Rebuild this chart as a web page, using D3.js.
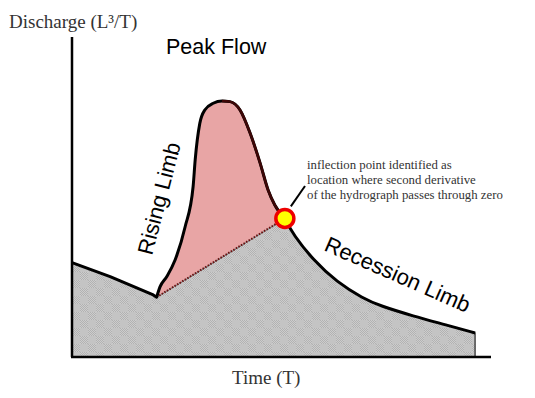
<!DOCTYPE html>
<html>
<head>
<meta charset="utf-8">
<script src="https://cdn.jsdelivr.net/npm/d3@7"></script>
<style>
  html, body { margin: 0; padding: 0; background: #fff; }
  svg { display: block; }
</style>
</head>
<body>
<div id="viz"></div>
<script>
const W = 535;
const H = 398;

// Hydrograph (time and discharge in arbitrary units 0-100).
const descentTime = [0, 9.1, 19.4, 20.2];
const descentFlow = [29.5, 25.1, 19.4, 18.7];

const eventTime = [20.2, 21.0, 22.6, 24.6, 27.0, 28.9, 29.4, 30.5, 31.7, 33.7, 35.8, 37.7, 40.1, 42.5, 44.9, 46.8, 48.4, 50.8];
const eventFlow = [18.7, 21.9, 25.1, 30.3, 40.7, 53.2, 61.6, 73.0, 77.2, 79.3, 80.0, 79.8, 77.2, 70.0, 60.6, 52.2, 47.5, 43.3];

const recessionTime = [50.8, 52.8, 57.6, 63.2, 69.5, 73.5, 81.4, 89.4, 96.2];
const recessionFlow = [43.3, 38.2, 30.3, 23.4, 18.3, 16.0, 12.8, 10.0, 7.5];

const peakIndex = 10; // top of the event
const inflection = { t: 50.8, q: 43.3 };

const annotationLines = [
  'inflection point identified as',
  'location where second derivative',
  'of the hydrograph passes through zero',
];

const x = d3.scaleLinear().domain([0, 100]).range([72, 491]);
const y = d3.scaleLinear().domain([0, 100]).range([357, 37]);

const zip = (ts, qs) => ts.map((t, i) => ({ t, q: qs[i] }));
const descent = zip(descentTime, descentFlow);
const event = zip(eventTime, eventFlow);
const recession = zip(recessionTime, recessionFlow);

const lineLinear = d3.line().x((d) => x(d.t)).y((d) => y(d.q));
const lineSmooth = d3.line().x((d) => x(d.t)).y((d) => y(d.q)).curve(d3.curveMonotoneX);
const lineRecess = d3.line().x((d) => x(d.t)).y((d) => y(d.q)).curve(d3.curveBasis);

// join path strings, turning the leading M of later pieces into L
const joinPaths = (...parts) => parts.map((p, i) => (i ? p.replace(/^M/, 'L') : p)).join('');

const svg = d3.select('#viz').append('svg').attr('width', W).attr('height', H);

const defs = svg.append('defs');
const fine = defs.append('pattern')
  .attr('id', 'fine')
  .attr('patternUnits', 'userSpaceOnUse')
  .attr('width', 2).attr('height', 2);
fine.append('rect').attr('width', 2).attr('height', 2).attr('fill', '#cdcdcd');
fine.append('rect').attr('width', 1).attr('height', 1).attr('fill', '#b2b2b2');
fine.append('rect').attr('x', 1).attr('y', 1).attr('width', 1).attr('height', 1).attr('fill', '#b2b2b2');
const pat = defs.append('pattern')
  .attr('id', 'checker')
  .attr('patternUnits', 'userSpaceOnUse')
  .attr('width', 16).attr('height', 16);
pat.append('rect').attr('width', 16).attr('height', 16).attr('fill', '#c4c4c4');
pat.append('rect').attr('width', 8).attr('height', 8).attr('fill', 'url(#fine)');
pat.append('rect').attr('x', 8).attr('y', 8).attr('width', 8).attr('height', 8).attr('fill', 'url(#fine)');

// baseflow area (grey)
const first = descent[0];
const last = recession[recession.length - 1];
const baseD = 'M' + x(first.t) + ',' + y(0) +
  joinPaths('L' + x(first.t) + ',' + y(first.q), lineLinear(descent), lineRecess(recession).replace(/^M/, 'L')) +
  'L' + x(last.t) + ',' + y(0) + 'Z';
svg.append('path')
  .attr('d', baseD)
  .attr('fill', 'url(#checker)')
  .attr('stroke', '#222')
  .attr('stroke-width', 1.2);

// quickflow area (pink) between event curve and separation line
svg.append('path')
  .attr('d', lineSmooth(event) + 'Z')
  .attr('fill', '#e8a5a5')
  .attr('stroke', '#999')
  .attr('stroke-width', 1);

// separation line (dotted)
svg.append('path')
  .attr('d', lineLinear([event[0], inflection]))
  .attr('fill', 'none')
  .attr('stroke', '#6b1010')
  .attr('stroke-width', 2)
  .attr('stroke-dasharray', '1.5,1.5');

// hydrograph
svg.append('path')
  .attr('d', joinPaths(lineLinear(descent), lineSmooth(event), lineRecess(recession)))
  .attr('fill', 'none')
  .attr('stroke', '#000')
  .attr('stroke-width', 3)
  .attr('stroke-linejoin', 'round');

// falling limb overdrawn in dark red
svg.append('path')
  .attr('d', lineSmooth(event.slice(peakIndex)))
  .attr('fill', 'none')
  .attr('stroke', '#3e0606')
  .attr('stroke-width', 2.5);

// axes
svg.append('line')
  .attr('x1', x(0)).attr('x2', x(0))
  .attr('y1', y(100)).attr('y2', y(0))
  .attr('stroke', '#000').attr('stroke-width', 2.5);
svg.append('line')
  .attr('x1', x(0) - 1).attr('x2', x(100))
  .attr('y1', y(0)).attr('y2', y(0))
  .attr('stroke', '#000').attr('stroke-width', 2.5);

// leader line + inflection marker
svg.append('line')
  .attr('x1', x(inflection.t) + 6).attr('y1', y(inflection.q) - 12)
  .attr('x2', 305).attr('y2', 186)
  .attr('stroke', '#000').attr('stroke-width', 2);
svg.append('circle')
  .attr('cx', x(inflection.t)).attr('cy', y(inflection.q))
  .attr('r', 9)
  .attr('fill', '#ffff00')
  .attr('stroke', '#ee0000')
  .attr('stroke-width', 3.5);

// text
const serif = '"Liberation Serif", "Times New Roman", serif';
const sans = '"Liberation Sans", Arial, sans-serif';

svg.append('text')
  .attr('x', 9).attr('y', 28)
  .attr('font-family', serif).attr('font-size', 19).attr('fill', '#333')
  .text('Discharge (L³/T)');

svg.append('text')
  .attr('x', 232).attr('y', 384)
  .attr('font-family', serif).attr('font-size', 19).attr('fill', '#333')
  .text('Time (T)');

svg.append('text')
  .attr('x', 166).attr('y', 54)
  .attr('font-family', sans).attr('font-size', 21.5).attr('fill', '#000')
  .text('Peak Flow');

svg.append('text')
  .attr('transform', 'translate(152,256) rotate(-75.5)')
  .attr('font-family', sans).attr('font-size', 22).attr('fill', '#000')
  .text('Rising Limb');

svg.append('text')
  .attr('transform', 'translate(323,250) rotate(23.7)')
  .attr('font-family', sans).attr('font-size', 22).attr('fill', '#000')
  .text('Recession Limb');

svg.selectAll('text.note')
  .data(annotationLines)
  .join('text')
  .attr('class', 'note')
  .attr('x', 307)
  .attr('y', (d, i) => 169 + i * 15)
  .attr('font-family', serif).attr('font-size', 12.8).attr('fill', '#333')
  .text((d) => d);
</script>
</body>
</html>
